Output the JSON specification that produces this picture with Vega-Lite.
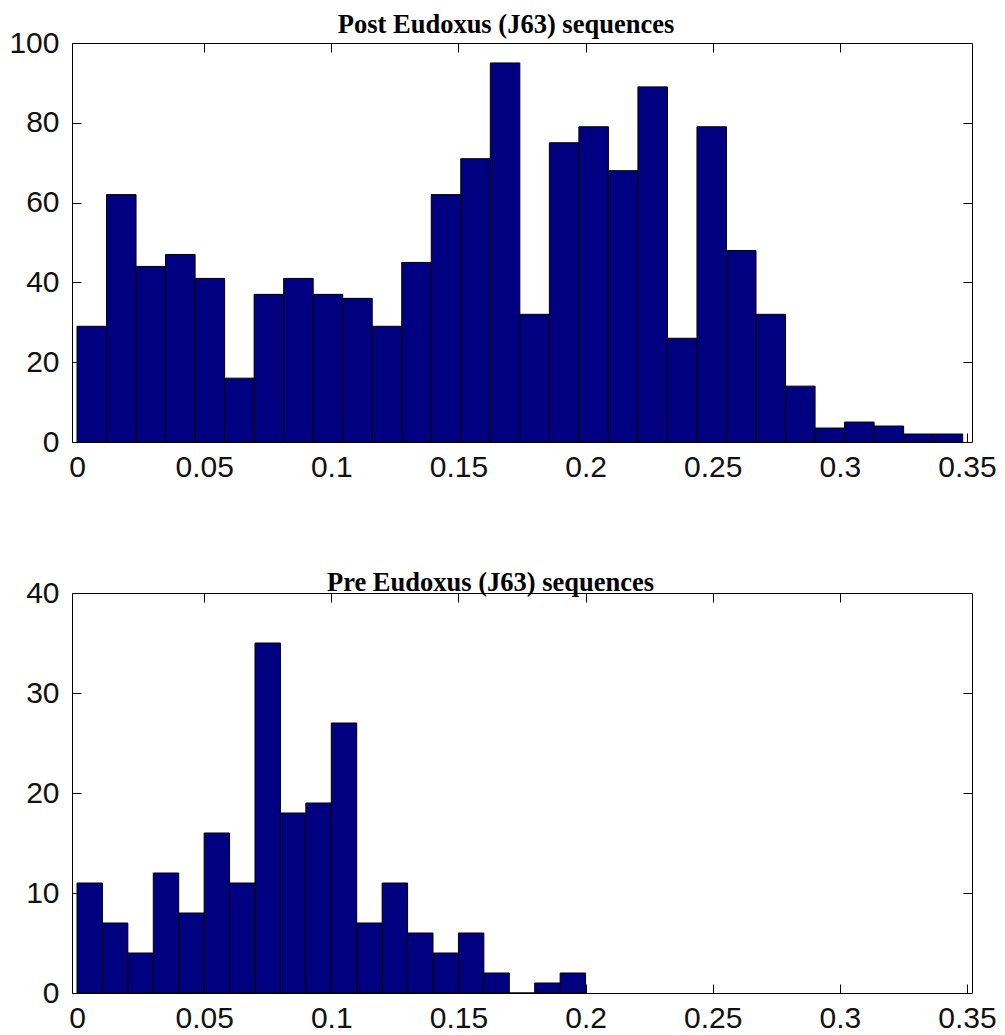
{
  "$schema": "https://vega.github.io/schema/vega-lite/v6.json",
  "padding": {"left": 0, "top": 10, "right": 5, "bottom": 5},
  "background": "white",
  "bounds": "flush",
  "spacing": 151,
  "config": {
    "view": {"stroke": "black", "strokeWidth": 1},
    "axis": {
      "grid": false,
      "domain": false,
      "tickColor": "black",
      "tickSize": -9,
      "tickWidth": 1,
      "labelFont": "Liberation Sans",
      "labelFontSize": 30,
      "labelColor": "#111",
      "labelFlush": false,
      "titleFont": "Liberation Serif",
      "titleFontSize": 26.5,
      "titleFontWeight": "bold",
      "titleColor": "black",
      "titleBaseline": "alphabetic",
      "titleAlign": "center"
    }
  },
  "vconcat": [
    {
      "width": 900,
      "height": 399,
      "data": {
        "values": [
          {"start": 0, "end": 0.01161, "count": 29},
          {"start": 0.01161, "end": 0.02322, "count": 62},
          {"start": 0.02322, "end": 0.03483, "count": 44},
          {"start": 0.03483, "end": 0.04644, "count": 47},
          {"start": 0.04644, "end": 0.05805, "count": 41},
          {"start": 0.05805, "end": 0.06966, "count": 16},
          {"start": 0.06966, "end": 0.08127, "count": 37},
          {"start": 0.08127, "end": 0.09288, "count": 41},
          {"start": 0.09288, "end": 0.10449, "count": 37},
          {"start": 0.10449, "end": 0.1161, "count": 36},
          {"start": 0.1161, "end": 0.12771, "count": 29},
          {"start": 0.12771, "end": 0.13932, "count": 45},
          {"start": 0.13932, "end": 0.15093, "count": 62},
          {"start": 0.15093, "end": 0.16254, "count": 71},
          {"start": 0.16254, "end": 0.17415, "count": 95},
          {"start": 0.17415, "end": 0.18576, "count": 32},
          {"start": 0.18576, "end": 0.19737, "count": 75},
          {"start": 0.19737, "end": 0.20898, "count": 79},
          {"start": 0.20898, "end": 0.22059, "count": 68},
          {"start": 0.22059, "end": 0.2322, "count": 89},
          {"start": 0.2322, "end": 0.24381, "count": 26},
          {"start": 0.24381, "end": 0.25542, "count": 79},
          {"start": 0.25542, "end": 0.26703, "count": 48},
          {"start": 0.26703, "end": 0.27864, "count": 32},
          {"start": 0.27864, "end": 0.29025, "count": 14},
          {"start": 0.29025, "end": 0.30186, "count": 3.5},
          {"start": 0.30186, "end": 0.31347, "count": 5},
          {"start": 0.31347, "end": 0.32508, "count": 4},
          {"start": 0.32508, "end": 0.33669, "count": 2},
          {"start": 0.33669, "end": 0.3483, "count": 2}
        ]
      },
      "layer": [
        {
          "mark": {"type": "bar", "fill": "#000080", "stroke": "black", "strokeWidth": 1, "orient": "vertical"},
          "encoding": {
            "x": {
              "field": "start", "type": "quantitative",
              "scale": {"domain": [0, 0.35], "nice": false, "zero": false},
              "axis": {"orient": "bottom", "title": null, "values": [0, 0.05, 0.1, 0.15, 0.2, 0.25, 0.3, 0.35], "format": "~g", "labelPadding": 19}
            },
            "x2": {"field": "end"},
            "y": {
              "field": "count", "type": "quantitative",
              "scale": {"domain": [0, 100], "nice": false},
              "axis": {"orient": "left", "title": null, "values": [0, 20, 40, 60, 80, 100], "minExtent": 71, "maxExtent": 71, "labelPadding": 22}
            },
            "y2": {"datum": 0}
          }
        },
        {
          "mark": {"type": "bar", "opacity": 0, "orient": "vertical"},
          "encoding": {
            "x": {
              "field": "start", "type": "quantitative",
              "axis": {"orient": "top", "title": "Post Eudoxus (J63) sequences", "titlePadding": 10.5, "titleX": 433.5, "minExtent": 0, "values": [0.05, 0.1, 0.15, 0.2, 0.25, 0.3], "labels": false}
            },
            "x2": {"field": "end"},
            "y": {"field": "count", "type": "quantitative", "axis": {"orient": "right", "title": null, "values": [20, 40, 60, 80], "labels": false, "minExtent": 0}},
            "y2": {"datum": 0}
          }
        }
      ],
      "resolve": {"axis": {"x": "independent", "y": "independent"}}
    },
    {
      "width": 900,
      "height": 400,
      "data": {
        "values": [
          {"start": 0, "end": 0.01, "count": 11},
          {"start": 0.01, "end": 0.02, "count": 7},
          {"start": 0.02, "end": 0.03, "count": 4},
          {"start": 0.03, "end": 0.04, "count": 12},
          {"start": 0.04, "end": 0.05, "count": 8},
          {"start": 0.05, "end": 0.06, "count": 16},
          {"start": 0.06, "end": 0.07, "count": 11},
          {"start": 0.07, "end": 0.08, "count": 35},
          {"start": 0.08, "end": 0.09, "count": 18},
          {"start": 0.09, "end": 0.1, "count": 19},
          {"start": 0.1, "end": 0.11, "count": 27},
          {"start": 0.11, "end": 0.12, "count": 7},
          {"start": 0.12, "end": 0.13, "count": 11},
          {"start": 0.13, "end": 0.14, "count": 6},
          {"start": 0.14, "end": 0.15, "count": 4},
          {"start": 0.15, "end": 0.16, "count": 6},
          {"start": 0.16, "end": 0.17, "count": 2},
          {"start": 0.17, "end": 0.18, "count": 0},
          {"start": 0.18, "end": 0.19, "count": 1},
          {"start": 0.19, "end": 0.2, "count": 2}
        ]
      },
      "layer": [
        {
          "mark": {"type": "bar", "fill": "#000080", "stroke": "black", "strokeWidth": 1, "orient": "vertical"},
          "encoding": {
            "x": {
              "field": "start", "type": "quantitative",
              "scale": {"domain": [0, 0.35], "nice": false, "zero": false},
              "axis": {"orient": "bottom", "title": null, "values": [0, 0.05, 0.1, 0.15, 0.2, 0.25, 0.3, 0.35], "format": "~g", "labelPadding": 19}
            },
            "x2": {"field": "end"},
            "y": {
              "field": "count", "type": "quantitative",
              "scale": {"domain": [0, 40], "nice": false},
              "axis": {"orient": "left", "title": null, "values": [0, 10, 20, 30, 40], "minExtent": 71, "maxExtent": 71, "labelPadding": 22}
            },
            "y2": {"datum": 0}
          }
        },
        {
          "mark": {"type": "bar", "opacity": 0, "orient": "vertical"},
          "encoding": {
            "x": {
              "field": "start", "type": "quantitative",
              "axis": {"orient": "top", "title": "Pre Eudoxus (J63) sequences", "titlePadding": 1.6, "titleX": 418, "minExtent": 0, "values": [0.05, 0.1, 0.15, 0.2, 0.25, 0.3], "labels": false}
            },
            "x2": {"field": "end"},
            "y": {"field": "count", "type": "quantitative", "axis": {"orient": "right", "title": null, "values": [10, 20, 30], "labels": false, "minExtent": 0}},
            "y2": {"datum": 0}
          }
        }
      ],
      "resolve": {"axis": {"x": "independent", "y": "independent"}}
    }
  ]
}
